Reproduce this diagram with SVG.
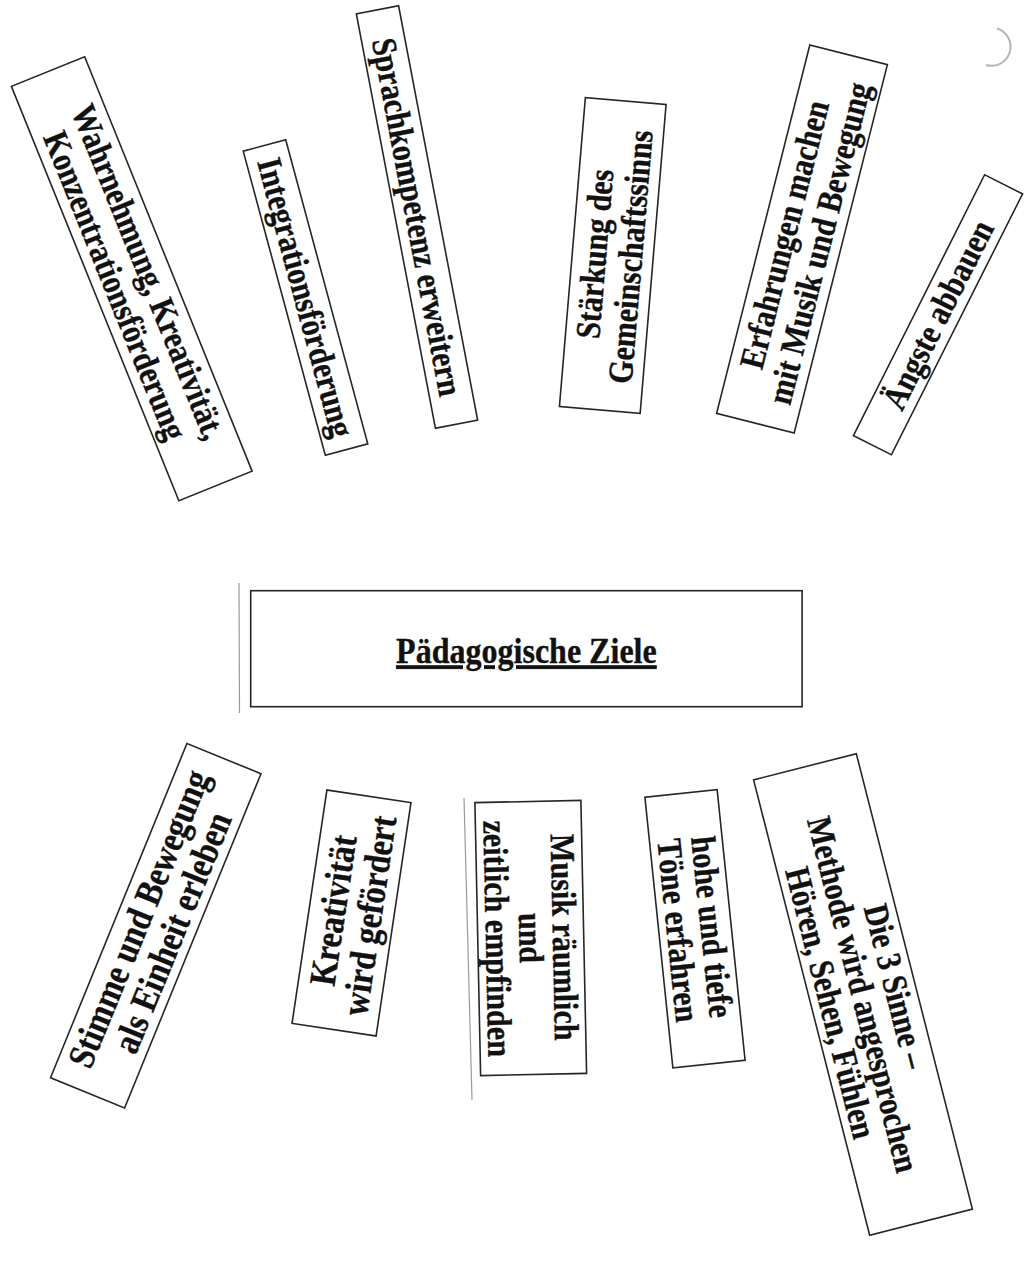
<svg xmlns="http://www.w3.org/2000/svg" width="1031" height="1272" viewBox="0 0 1031 1272">
  <style>
    .b { fill: #ffffff; stroke: #262626; stroke-width: 1.6; }
    .t { font-family: "Liberation Serif", "Times New Roman", serif; font-weight: bold; font-size: 35px; fill: #111111; stroke: #111111; stroke-width: 0.35; text-anchor: middle; }
    .big { font-size: 37.5px; }
    .title { font-size: 36px; text-decoration: underline; }
    .mark { fill: none; stroke: #9a9a9a; stroke-width: 1.2; }
  </style>
  <rect x="0" y="0" width="1031" height="1272" fill="#ffffff"/>

  <g id="scan-marks">
    <path class="mark" d="M 239 583 L 239.5 713"/>
    <path class="mark" d="M 464 798 L 472 1100"/>
    <path d="M 997 28.5 A 19 19 0 1 1 986 65" fill="none" stroke="#b5b5b5" stroke-width="2"/>
  </g>

  <g id="connectors"></g>

  <g id="node-center" transform="translate(526.4,648.7)">
    <rect class="b" x="-275.7" y="-58" width="551.4" height="116"/>
    <g transform="scale(0.89 1)">
      <text class="t title" x="0" y="14.5">Pädagogische Ziele</text>
    </g>
  </g>

  <g id="node-wahrnehmung" transform="translate(131.75,278.75) rotate(68)">
    <rect class="b" x="-223.5" y="-39.5" width="447" height="79"/>
    <g transform="scale(0.86 1)">
      <text class="t" x="0" y="-6.5">Wahrnehmung, Kreativität,</text>
      <text class="t" x="0" y="29.5">Konzentrationsförderung</text>
    </g>
  </g>

  <g id="node-integration" transform="translate(305.5,297.5) rotate(74.9)">
    <rect class="b" x="-157.5" y="-22" width="315" height="44"/>
    <g transform="scale(0.86 1)">
      <text class="t" x="0" y="11.5">Integrationsförderung</text>
    </g>
  </g>

  <g id="node-sprache" transform="translate(417,217) rotate(79.2)">
    <rect class="b" x="-211" y="-21.5" width="422" height="43"/>
    <g transform="scale(0.86 1)">
      <text class="t" x="0" y="11.5">Sprachkompetenz erweitern</text>
    </g>
  </g>

  <g id="node-gemeinschaft" transform="translate(612.75,255.5) rotate(-85.2)">
    <rect class="b" x="-155" y="-40.5" width="310" height="81"/>
    <g transform="scale(0.86 1)">
      <text class="t" x="0" y="-6.5">Stärkung des</text>
      <text class="t" x="0" y="29.5">Gemeinschaftssinns</text>
    </g>
  </g>

  <g id="node-erfahrungen" transform="translate(802,239) rotate(-75.8)">
    <rect class="b" x="-190" y="-40" width="380" height="80"/>
    <g transform="scale(0.86 1)">
      <text class="t" x="0" y="-6.5">Erfahrungen machen</text>
      <text class="t" x="0" y="29.5">mit Musik und Bewegung</text>
    </g>
  </g>

  <g id="node-aengste" transform="translate(938,314.75) rotate(-63.3)">
    <rect class="b" x="-146" y="-21.25" width="292" height="42.5"/>
    <g transform="scale(0.86 1)">
      <text class="t" x="0" y="11.5">Ängste abbauen</text>
    </g>
  </g>

  <g id="node-stimme" transform="translate(155.75,925.75) rotate(-67.8)">
    <rect class="b" x="-180.5" y="-40" width="361" height="80"/>
    <g transform="scale(0.86 1)">
      <text class="t big" x="0" y="-6">Stimme und Bewegung</text>
      <text class="t big" x="0" y="30.5">als Einheit erleben</text>
    </g>
  </g>

  <g id="node-kreativitaet" transform="translate(351.5,913) rotate(-81.5)">
    <rect class="b" x="-118" y="-42.5" width="236" height="85"/>
    <g transform="scale(0.86 1)">
      <text class="t big" x="0" y="-6">Kreativität</text>
      <text class="t big" x="0" y="30.5">wird gefördert</text>
    </g>
  </g>

  <g id="node-musik" transform="translate(530.75,938) rotate(88.8)">
    <rect class="b" x="-136.5" y="-53" width="273" height="106"/>
    <g transform="scale(0.86 1)">
      <text class="t" x="0" y="-22">Musik räumlich</text>
      <text class="t" x="0" y="11.5">und</text>
      <text class="t" x="0" y="45">zeitlich empfinden</text>
    </g>
  </g>

  <g id="node-toene" transform="translate(695,928.75) rotate(84.1)">
    <rect class="b" x="-136" y="-36.3" width="272" height="72.6"/>
    <g transform="scale(0.86 1)">
      <text class="t" x="0" y="-5.5">hohe und tiefe</text>
      <text class="t" x="0" y="28.5">Töne erfahren</text>
    </g>
  </g>

  <g id="node-sinne" transform="translate(863,994.5) rotate(75.7)">
    <rect class="b" x="-235" y="-53" width="470" height="106"/>
    <g transform="scale(0.86 1)">
      <text class="t" x="0" y="-22">Die 3 Sinne –</text>
      <text class="t" x="0" y="11.5">Methode wird angesprochen</text>
      <text class="t" x="0" y="45">Hören, Sehen, Fühlen</text>
    </g>
  </g>
</svg>
